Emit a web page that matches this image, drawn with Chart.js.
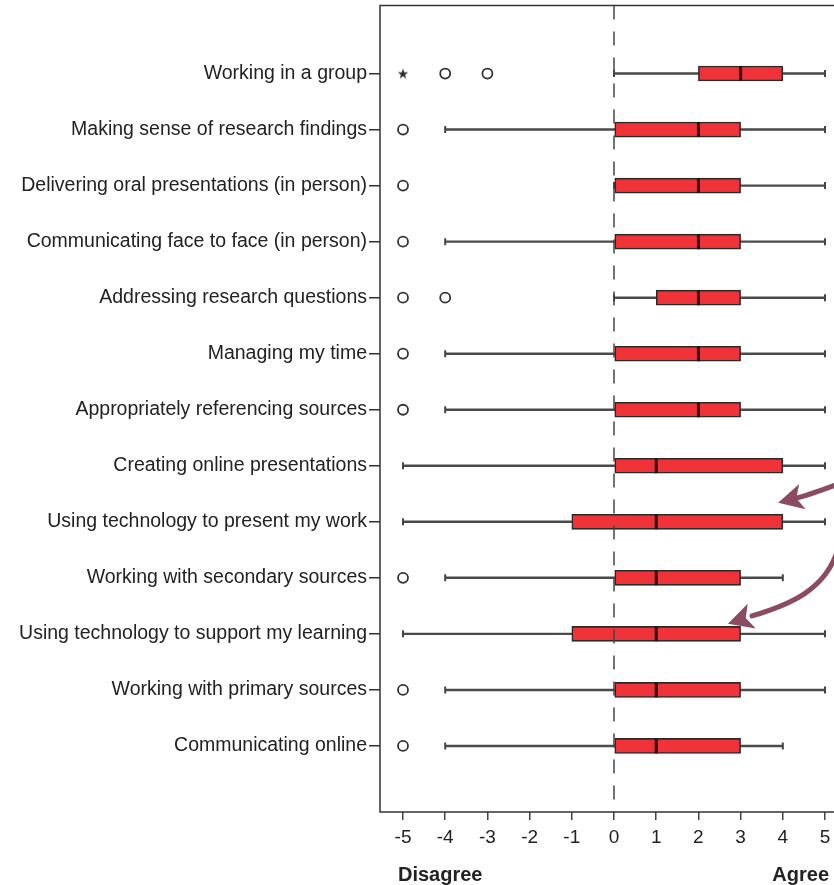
<!DOCTYPE html>
<html>
<head>
  <meta charset="UTF-8">
  <title>Skills box plot</title>
  <script src="https://cdn.jsdelivr.net/npm/chart.js"></script>
  <style>
    body { margin: 0; background: #fff; overflow: hidden; }
    #wrap { width: 860px; height: 890px; position: absolute; left: 0; top: -5px; }
  </style>
</head>
<body>
<div id="wrap"><canvas id="boxChart"></canvas></div>
<script>
const categories = [
  'Working in a group',
  'Making sense of research findings',
  'Delivering oral presentations (in person)',
  'Communicating face to face (in person)',
  'Addressing research questions',
  'Managing my time',
  'Appropriately referencing sources',
  'Creating online presentations',
  'Using technology to present my work',
  'Working with secondary sources',
  'Using technology to support my learning',
  'Working with primary sources',
  'Communicating online'
];
const whiskerLow  = [0, -4, 0, -4, 0, -4, -4, -5, -5, -4, -5, -4, -4];
const q1          = [2, 0, 0, 0, 1, 0, 0, 0, -1, 0, -1, 0, 0];
const median      = [3, 2, 2, 2, 2, 2, 2, 1, 1, 1, 1, 1, 1];
const q3          = [4, 3, 3, 3, 3, 3, 3, 4, 4, 3, 3, 3, 3];
const whiskerHigh = [5, 5, 5, 5, 5, 5, 5, 5, 5, 4, 5, 5, 4];
const outliers    = [[-4, -3], [-5], [-5], [-5], [-5, -4], [-5], [-5], [], [], [-5], [], [-5], [-5]];
const extremes    = [[-5], [], [], [], [], [], [], [], [], [], [], [], []];
const xTicks = [-5, -4, -3, -2, -1, 0, 1, 2, 3, 4, 5];
const endLabels = ['Disagree', 'Agree'];
// hand drawn arrows: [x value, category position]
const arrowPaths = [
  [[5.4, 7.3], [4.7, 7.5], [4.36, 7.57], [3.89, 7.66]],
  [[5.3, 8.5], [5.02, 9.21], [4.17, 9.48], [3.27, 9.68], [2.70, 9.82]]
];

const FONT = '"Liberation Sans", Arial, sans-serif';

function makeStar() {
  const c = document.createElement('canvas');
  c.width = 12; c.height = 12;
  const g = c.getContext('2d');
  g.fillStyle = '#333';
  g.beginPath();
  for (let k = 0; k < 10; k++) {
    const r = k % 2 ? 2.2 : 5.5;
    const a = -Math.PI / 2 + k * Math.PI / 5;
    g.lineTo(6 + r * Math.cos(a), 6.5 + r * Math.sin(a));
  }
  g.closePath();
  g.fill();
  return c;
}

const pts = (vals) => vals.flatMap((list, i) => list.map(v => ({ x: v, y: i })));

const decor = {
  id: 'decor',
  beforeDatasetsDraw(chart) {
    const { ctx, chartArea: a } = chart;
    ctx.save();
    ctx.strokeStyle = '#333';
    ctx.lineWidth = 1.5;
    ctx.strokeRect(a.left, a.top, a.right - a.left, a.bottom - a.top);
    ctx.restore();
  },
  afterDatasetsDraw(chart) {
    const { ctx, chartArea: a, scales: { x, y } } = chart;
    ctx.save();
    // dashed zero line
    ctx.strokeStyle = '#444';
    ctx.lineWidth = 1.5;
    ctx.setLineDash([14, 12]);
    ctx.beginPath();
    ctx.moveTo(x.getPixelForValue(0), a.top);
    ctx.lineTo(x.getPixelForValue(0), a.bottom);
    ctx.stroke();
    ctx.setLineDash([]);

    // arrows
    ctx.strokeStyle = '#8c4b61';
    ctx.fillStyle = '#8c4b61';
    ctx.lineWidth = 5;
    ctx.lineCap = 'round';
    arrowPaths.forEach(p => {
      const P = p.map(q => [x.getPixelForValue(q[0]), y.getPixelForValue(q[1])]);
      const tip = P[P.length - 1];
      const end = P[P.length - 2];
      ctx.beginPath();
      ctx.moveTo(P[0][0], P[0][1]);
      if (P.length === 4) ctx.quadraticCurveTo(P[1][0], P[1][1], end[0], end[1]);
      else ctx.bezierCurveTo(P[1][0], P[1][1], P[2][0], P[2][1], end[0], end[1]);
      ctx.stroke();
      const dx = tip[0] - end[0], dy = tip[1] - end[1];
      const len = Math.hypot(dx, dy);
      const ux = dx / len, uy = dy / len;
      const L = 25, W = 13;
      const bx = tip[0] - ux * L, by = tip[1] - uy * L;
      const nx = tip[0] - ux * L * 0.75, ny = tip[1] - uy * L * 0.75;
      ctx.beginPath();
      ctx.moveTo(tip[0], tip[1]);
      ctx.lineTo(bx - uy * W, by + ux * W);
      ctx.lineTo(nx, ny);
      ctx.lineTo(bx + uy * W, by - ux * W);
      ctx.closePath();
      ctx.fill();
    });
    ctx.restore();
  },
  afterDraw(chart) {
    const { ctx, chartArea: a, scales: { x } } = chart;
    ctx.save();
    ctx.fillStyle = '#222';
    ctx.font = 'bold 20px ' + FONT;
    ctx.textBaseline = 'middle';
    ctx.textAlign = 'left';
    ctx.fillText(endLabels[0], x.getPixelForValue(xTicks[0]) - 5, a.bottom + 63);
    ctx.textAlign = 'right';
    ctx.fillText(endLabels[1], x.getPixelForValue(xTicks[xTicks.length - 1]) + 4, a.bottom + 63);
    ctx.restore();
  }
};

new Chart(document.getElementById('boxChart'), {
  type: 'bar',
  data: {
    datasets: [
      {
        label: 'whisker',
        data: categories.map((c, i) => ({ y: i, x: [whiskerLow[i], whiskerHigh[i]] })),
        backgroundColor: '#4a4a4a',
        borderWidth: 0,
        barThickness: 1.8,
        grouped: false,
        order: 6
      },
      {
        label: 'lower box',
        data: categories.map((c, i) => ({ y: i, x: [q1[i], median[i]] })),
        backgroundColor: '#ef3338',
        borderColor: '#2a2a2a',
        borderWidth: 1.6,
        borderSkipped: false,
        barThickness: 15,
        grouped: false,
        order: 4
      },
      {
        label: 'upper box',
        data: categories.map((c, i) => ({ y: i, x: [median[i], q3[i]] })),
        backgroundColor: '#ef3338',
        borderColor: '#2a2a2a',
        borderWidth: 1.6,
        borderSkipped: false,
        barThickness: 15,
        grouped: false,
        order: 4
      },
      {
        type: 'scatter',
        label: 'caps',
        data: categories.flatMap((c, i) => [{ x: whiskerLow[i], y: i }, { x: whiskerHigh[i], y: i }]),
        pointStyle: 'line',
        rotation: 90,
        radius: 3.5,
        borderColor: '#444',
        borderWidth: 2,
        order: 5
      },
      {
        type: 'scatter',
        label: 'median',
        data: categories.map((c, i) => ({ x: median[i], y: i })),
        pointStyle: 'line',
        rotation: 90,
        radius: 7.5,
        borderColor: '#3a0d0d',
        borderWidth: 3,
        order: 1
      },
      {
        type: 'scatter',
        label: 'outliers',
        data: pts(outliers),
        pointStyle: 'circle',
        radius: 5,
        backgroundColor: '#fff',
        borderColor: '#333',
        borderWidth: 1.8,
        order: 2
      },
      {
        type: 'scatter',
        label: 'extremes',
        data: pts(extremes),
        pointStyle: makeStar(),
        order: 2
      }
    ]
  },
  options: {
    indexAxis: 'y',
    responsive: true,
    maintainAspectRatio: false,
    animation: false,
    events: [],
    layout: { padding: { top: 6, right: 12, bottom: 0, left: 0 } },
    plugins: { legend: { display: false }, tooltip: { enabled: false } },
    scales: {
      x: {
        type: 'linear',
        bounds: 'data',
        min: -5.545,
        max: 5.545,
        afterFit: s => { s.height = 73; },
        border: { display: false },
        grid: { drawOnChartArea: false, drawTicks: true, tickLength: 8, color: '#444', lineWidth: 1.5 },
        ticks: {
          stepSize: 1,
          includeBounds: false,
          padding: 6,
          color: '#222',
          font: { family: FONT, size: 19 }
        },
        afterBuildTicks: s => { s.ticks = xTicks.map(v => ({ value: v })); }
      },
      y: {
        type: 'linear',
        bounds: 'data',
        reverse: true,
        offset: false,
        min: -1.2143,
        max: 13.179,
        afterFit: s => { s.width = 380; },
        border: { display: false },
        grid: { offset: false, drawOnChartArea: false, drawTicks: true, tickLength: 11, color: '#333', lineWidth: 1.5 },
        ticks: {
          stepSize: 1,
          includeBounds: false,
          autoSkip: false,
          padding: 2,
          color: '#222',
          font: { family: FONT, size: 19.5, lineHeight: 0.6 },
          callback: v => categories[v]
        },
        afterBuildTicks: s => { s.ticks = categories.map((c, i) => ({ value: i })); }
      }
    }
  },
  plugins: [decor]
});
</script>
</body>
</html>
